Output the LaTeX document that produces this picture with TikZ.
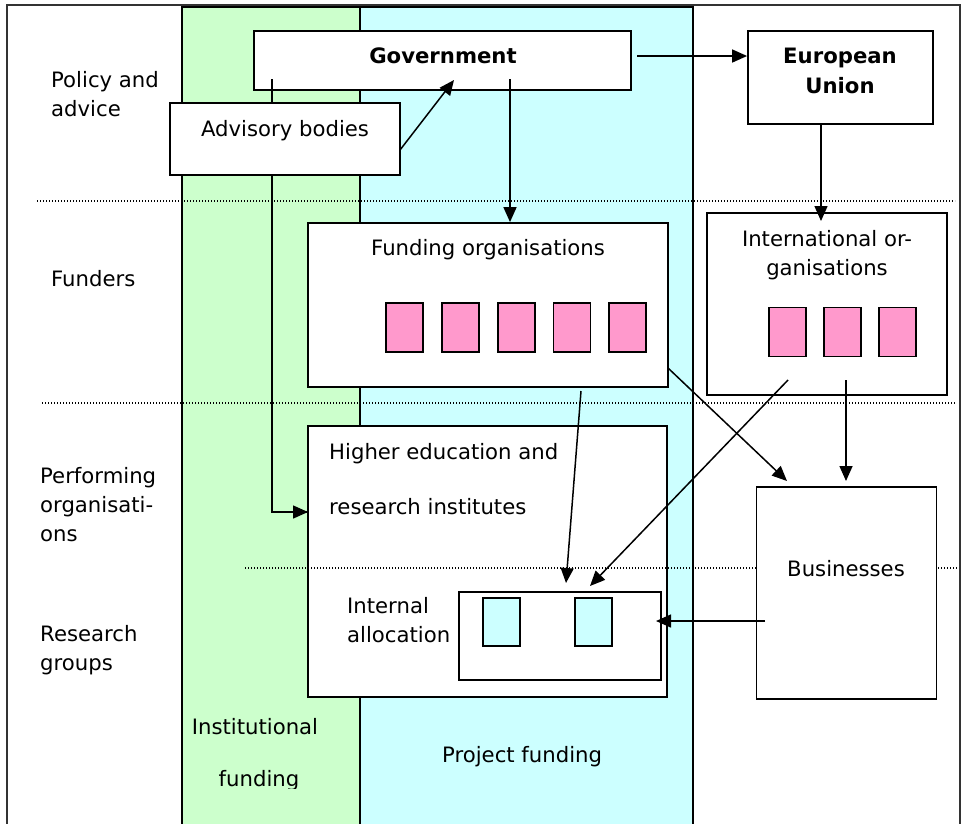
\documentclass[tikz,border=0pt]{standalone}
\usepackage{fontspec}
\setmainfont{DejaVu Sans}
\usetikzlibrary{arrows.meta}

\definecolor{instgreen}{HTML}{CCFFCC}
\definecolor{projcyan}{HTML}{CCFFFF}
\definecolor{unitpink}{HTML}{FF99CC}

\tikzset{
	box/.style={draw, line width=1.8pt, fill=white, inner sep=0pt},
	unit/.style={draw, line width=1.8pt, inner sep=0pt, minimum width=37pt, minimum height=49pt},
	txt/.style={inner sep=0pt, font=\fontsize{21.2}{29}\selectfont},
	head/.style={inner sep=0pt, font=\fontsize{21.2}{30}\selectfont\bfseries},
	flow/.style={line width=1.5pt, -{Triangle[length=15pt,width=13pt]}},
	level/.style={line width=1.2pt, dash pattern=on 1.2pt off 1.8pt},
}

\begin{document}
\begin{tikzpicture}[x=1pt,y=-1pt]
	\clip (0,0) rectangle (965,823);
	\fill[white] (0,0) rectangle (965,823);
	\draw[line width=1.8pt, black!80] (7,5) rectangle (960,840);
	% funding streams
	\filldraw[fill=instgreen, line width=2.5pt] (182,7) rectangle (360,840);
	\filldraw[fill=projcyan, line width=2.5pt] (360,7) rectangle (693,840);
	\draw[level] (37,201) -- (955,201);
	\draw[level] (42,403) -- (955,403);
	
	% levels
	\node[txt, align=left, anchor=base west] (policy) at (51,116) {Policy and\\advice};
	\node[txt, anchor=base west] (funders) at (51,286) {Funders};
	\node[txt, align=left, anchor=base west] (performing) at (40,541) {Performing\\organisati-\\ons};
	\node[txt, align=left, anchor=base west] (groups) at (40,670) {Research\\groups};
	\node[txt, anchor=base] (insttxt) at (255,734) {Institutional};
	\begin{scope}
		\clip (182,760) rectangle (360,788);
		\node[txt, anchor=base] (instfund) at (259,786) {funding};
	\end{scope}
	\node[txt, anchor=base west] (projtxt) at (442,762) {Project funding};
	
	% policy level
	\node[box, minimum width=377pt, minimum height=59pt] (gov) at (442.5,60.5) {};
	\node[head, anchor=base] (govtxt) at (443,63) {Government};
	\coordinate (govW) at (272,79);
	\coordinate (heiW) at (308,512);
	\draw[line width=1.5pt] (govW) |- (heiW);
	\draw[flow] (govW |- heiW) -- (heiW);
	\coordinate (govS) at (510,79);
	\coordinate (govE) at (637,56);
	\node[box, minimum width=230pt, minimum height=72pt] (adv) at (285,139) {};
	\node[txt, anchor=base] (advtxt) at (285,136) {Advisory bodies};
	\coordinate (advE) at (400,150);
	\coordinate (govB) at (454,80);
	\draw[flow] (advE) -- (govB);
	\node[box, minimum width=185pt, minimum height=93pt] (eu) at (840.5,77.5) {};
	\node[head, align=center, anchor=base] (eutxt) at (840,93) {European\\Union};
	\draw[flow] (govE) -- (govE -| eu.west);
	
	% funders
	\node[box, minimum width=360pt, minimum height=164pt] (fund) at (488,305) {};
	\node[txt, anchor=base west] (fundtxt) at (371,255) {Funding organisations};
	\foreach \i in {0,...,4}
		\node[unit, fill=unitpink] (fu\i) at (404.5+55.8*\i,327.5) {};
	\draw[flow] (govS) -- (govS |- fund.north);
	\node[box, minimum width=240pt, minimum height=182pt] (intl) at (827,304) {};
	\node[txt, align=center, anchor=base] (intltxt) at (827,275) {International or-\\ganisations};
	\foreach \i in {0,...,2}
		\node[unit, fill=unitpink] (iu\i) at (787.7+54.8*\i,332) {};
	\coordinate (euS) at (821,124);
	\draw[flow] (euS) -- (821,221);
	
	% performers
	\node[box, minimum width=359pt, minimum height=271pt] (hei) at (487.5,561.5) {};
	\node[txt, anchor=base west] (heitxt1) at (329,459) {Higher education and};
	\node[txt, anchor=base west] (heitxt2) at (329,514) {research institutes};
	\draw[level] (245,568) -- (957,568);
	\node[box, minimum width=202pt, minimum height=88pt] (alloc) at (560,636) {};
	\node[txt, align=left, anchor=base west] (alloctxt) at (347,642) {Internal\\allocation};
	\foreach \i in {0,1}
		\node[unit, fill=projcyan, minimum height=48pt] (gu\i) at (501.8+91.7*\i,622) {};
	\node[box, minimum width=180pt, minimum height=212pt] (bus) at (846.5,593) {};
	\node[txt, anchor=base] (bustxt) at (846,576) {Businesses};
	
	% flows down
	\coordinate (fundB) at (581,391);
	\coordinate (fundR) at (668,368);
	\coordinate (intlL) at (788,380);
	\coordinate (intlB) at (846,380);
	\coordinate (busL) at (765,621);
	\draw[flow] (fundB) -- (566,583);
	\draw[flow] (fundR) -- (787,481);
	\draw[flow] (intlL) -- (590,586);
	\draw[flow] (intlB) -- (intlB |- 0,481);
	\draw[flow] (busL) -- (656,621);
\end{tikzpicture}
\end{document}
